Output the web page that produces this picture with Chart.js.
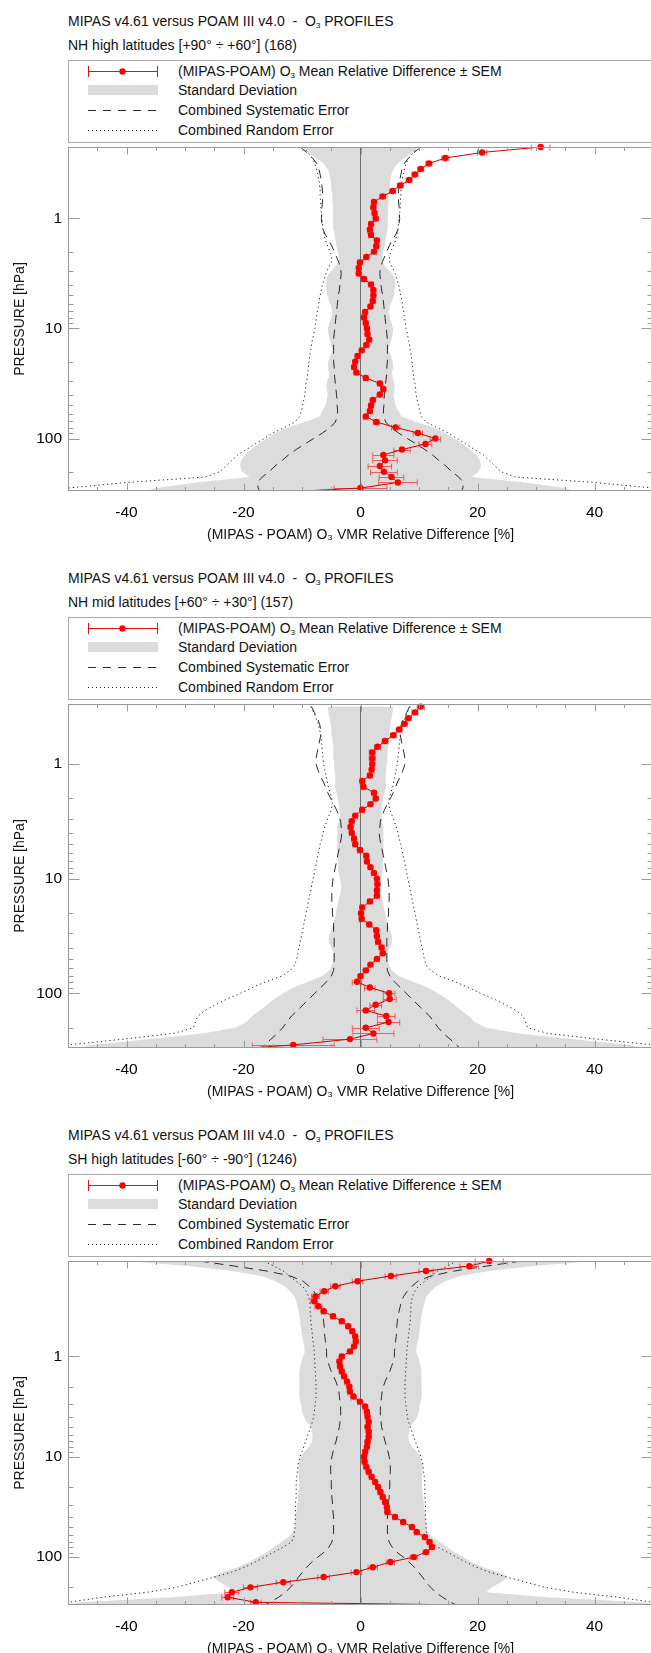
<!DOCTYPE html>
<html><head><meta charset="utf-8">
<script src="https://cdn.jsdelivr.net/npm/chart.js@4.4.1/dist/chart.umd.min.js"></script>
<style>
html,body{margin:0;padding:0;background:#fff;}
body{width:651px;height:1653px;overflow:hidden;position:relative;font-family:'Liberation Sans',Arial,Helvetica,sans-serif;color:#111;}
.panel{position:absolute;left:0;width:660px;height:557px;}
.t{position:absolute;left:68px;font-size:14px;line-height:16px;white-space:nowrap;}
.leg{position:absolute;left:68px;top:60px;width:620px;height:83px;border:1.5px solid #a8a8a8;box-sizing:border-box;}
.leg svg{position:absolute;left:18.5px;}
.leg span{position:absolute;left:109px;font-size:14px;line-height:16px;white-space:nowrap;}
sub{font-size:8px;vertical-align:-2px;line-height:0;}
canvas{position:absolute;left:0;top:141px;}
</style></head>
<body>
<script>
// ---------- data ----------
const levels = [0.112,0.126,0.141,0.158,0.178,0.200,0.224,0.251,0.282,0.316,0.355,0.398,0.447,0.501,0.562,0.631,0.708,0.794,0.891,
  1.00,1.12,1.26,1.41,1.58,1.78,2.00,2.24,2.51,2.82,3.16,3.55,3.98,4.47,5.01,5.62,6.31,7.08,7.94,8.91,
  10.0,11.2,12.6,14.1,15.8,17.8,20.0,22.4,25.1,28.2,31.6,35.5,39.8,44.7,50.1,56.2,63.1,70.8,79.4,89.1,
  100,112,126,141,158,178,200,224,251,282,316];

const xLabelTicks = [-40,-20,0,20,40];
const xMinorTicks = [-45,-35,-30,-25,-15,-10,-5,5,10,15,25,30,35,45];
const yLabelTicks = [1,10,100];
const yMinorTicks = [2,3,4,5,6,7,8,9,20,30,40,50,60,70,80,90,200];

const subtitles = ['NH high latitudes [+90° ÷ +60°] (168)','NH mid latitudes [+60° ÷ +30°] (157)','SH high latitudes [-60° ÷ -90°] (1246)'];
const pressureMin = [0.224, 0.316, 0.112];
const pressureMax = [300, 300, 300];
const levelStart = [6, 9, 0];

// Panel 1 : NH high latitudes
const p1Mean = [30.8,20.8,14.5,11.7,10.3,9.3,8.3,6.8,5.5,3.8,
  2.3,2.2,2.4,2.6,1.8,1.6,1.8,2.8,2.7,2.3,
  1.0,-0.1,-0.3,-0.3,0.6,1.8,2.2,2.2,2.1,1.7,
  0.8,0.6,0.9,1.1,1.2,1.5,1.0,0.2,-0.5,-0.9,
  -1.1,-0.7,0.9,3.3,3.9,3.3,2.1,1.8,1.6,0.9,
  2.7,6.0,9.8,12.8,11.1,7.1,3.9,4.2,3.3,4.0,
  5.3,6.4,0.0,-18];
const p1Sem = [1.6,0.8,0.6,0.5,0.5,0.5,0.5,0.5,0.5,0.5,
  0.4,0.4,0.4,0.4,0.4,0.4,0.4,0.4,0.4,0.4,
  0.4,0.4,0.4,0.4,0.4,0.4,0.4,0.4,0.4,0.4,
  0.4,0.4,0.4,0.4,0.4,0.4,0.4,0.4,0.4,0.4,
  0.4,0.4,0.4,0.4,0.4,0.4,0.4,0.4,0.4,0.4,
  0.5,0.7,0.8,0.9,1.1,1.4,1.8,2.1,2.0,2.3,
  2.1,3.3,4.5,5];
const p1Sd = [10.0,9.0,7.5,6.3,5.6,5.3,5.1,5.0,4.9,4.8,
  4.8,4.7,4.7,4.7,4.6,4.6,4.4,4.3,4.1,3.9,
  3.7,3.8,4.5,5.4,5.9,5.9,5.8,5.7,5.4,5.0,
  4.8,5.0,5.3,5.6,5.5,5.3,5.0,4.8,5.2,5.5,
  5.6,5.4,5.5,5.8,5.8,5.6,5.8,6.0,6.5,7.0,
  9.5,12.5,14.5,16.0,17.5,18.7,19.8,20.4,20.6,20.2,
  19.0,28,35,38];
const p1Sys = [10.3,9.2,8.2,7.5,7.1,6.9,6.7,6.6,6.5,6.5,
  6.5,6.6,6.6,6.7,6.6,6.4,6.0,5.4,4.9,4.5,
  4.1,3.7,3.4,3.3,3.4,3.5,3.6,3.8,3.9,4.0,
  4.1,4.2,4.3,4.4,4.5,4.6,4.6,4.6,4.6,4.6,
  4.5,4.5,4.4,4.3,4.2,4.1,4.0,4.0,3.9,4.0,
  4.3,5.2,6.5,8.0,9.5,11.0,12.3,13.4,14.6,15.6,
  16.8,17.6,17.5,17];
const p1Rnd = [9.8,9.0,8.3,7.8,7.5,7.3,7.1,7.0,6.9,6.9,
  6.8,6.8,6.7,6.6,6.5,6.4,6.2,6.0,5.6,5.2,
  4.9,5.0,5.5,5.9,6.2,6.5,6.7,6.9,7.1,7.2,
  7.4,7.5,7.7,7.8,8.0,8.2,8.4,8.5,8.7,8.8,
  8.9,9.0,9.1,9.3,9.4,9.5,9.7,9.9,10.1,10.4,
  11.2,13.0,15.0,16.5,18.0,19.5,21.0,22.0,23.0,24.0,
  26.5,40,50,55];

// Panel 2 : NH mid latitudes
const p2Mean = [10.3,9.3,8.2,7.5,6.6,5.6,4.2,2.9,2.0,2.0,
  2.0,1.9,1.6,0.3,0.5,2.3,2.6,1.7,0.3,-0.9,
  -1.5,-1.7,-1.5,-1.1,-0.9,-0.1,1.0,1.1,1.7,2.3,
  2.8,2.9,2.8,2.8,1.6,0.3,0.1,0.2,1.5,2.7,
  2.8,3.0,3.6,3.8,2.8,1.7,0.9,0.0,-0.6,1.6,
  4.9,5.0,2.6,0.9,4.4,4.8,0.9,2.2,-1.8,-11.5,-25];
const p2Sem = [0.6,0.5,0.5,0.5,0.5,0.5,0.5,0.5,0.5,0.5,
  0.4,0.4,0.4,0.4,0.4,0.4,0.4,0.4,0.4,0.4,
  0.4,0.4,0.4,0.4,0.4,0.4,0.4,0.4,0.4,0.4,
  0.4,0.4,0.4,0.4,0.4,0.4,0.4,0.4,0.4,0.4,
  0.4,0.4,0.4,0.4,0.4,0.4,0.4,0.4,0.8,0.9,
  1.0,1.1,1.0,1.5,1.5,1.9,2.3,3.5,4.6,7.0,7];
const p2Sd = [5.6,5.5,5.3,5.1,5.0,4.9,4.8,4.7,4.6,4.6,
  4.5,4.4,4.3,4.3,4.4,4.1,3.9,3.7,3.6,3.6,
  3.7,3.9,4.0,4.0,4.0,3.9,3.9,3.8,3.8,3.7,
  3.5,3.3,3.3,3.6,3.8,4.0,4.2,4.4,4.7,5.0,
  5.4,5.4,5.0,4.6,4.6,4.9,5.3,6.5,9.0,11.5,
  13.2,14.8,16.0,17.2,18.5,19.5,21.5,27,36,46,50];
const p2Sys = [8.4,7.9,7.4,7.0,6.8,6.8,7.0,7.2,7.4,7.6,
  7.6,7.3,6.9,6.4,6.0,5.6,5.1,4.6,4.1,3.7,
  3.4,3.3,3.2,3.3,3.5,3.7,3.9,4.1,4.3,4.5,
  4.7,4.8,4.9,4.9,4.9,4.8,4.8,4.7,4.6,4.6,
  4.5,4.5,4.5,4.5,4.5,4.5,4.6,5.0,5.8,6.8,
  7.8,8.8,9.8,10.8,11.8,12.6,13.3,14.2,15.3,16.4,17.5];
const p2Rnd = [8.5,8.0,7.6,7.2,7.0,6.8,6.7,6.6,6.5,6.4,
  6.3,6.1,5.9,5.7,5.5,5.2,4.9,4.8,5.0,5.4,
  5.8,6.1,6.4,6.6,6.9,7.1,7.3,7.5,7.7,7.9,
  8.1,8.3,8.5,8.7,8.9,9.1,9.3,9.5,9.7,9.9,
  10.1,10.3,10.5,10.7,10.9,11.2,12.0,13.5,16.2,18.5,
  20.5,22.8,24.8,26.6,27.8,28.2,28.6,32.0,40.5,50,55];

// Panel 3 : SH high latitudes
const p3Mean = [22.0,18.6,11.2,5.2,-0.5,-4.3,-6.2,-7.7,-7.9,-7.2,
  -6.3,-4.7,-3.2,-2.1,-1.4,-0.9,-0.8,-1.1,-1.8,-3.2,
  -3.6,-3.5,-3.2,-2.8,-2.3,-1.9,-1.8,-1.2,-0.1,0.8,
  1.1,1.2,1.4,1.2,1.4,1.4,1.2,1.1,0.8,0.6,
  0.7,1.0,1.4,1.9,2.5,3.0,3.4,3.8,4.2,4.5,
  4.6,5.9,7.3,8.8,9.6,11.0,11.8,12.2,11.2,9.1,
  5.1,2.1,-0.7,-6.3,-13.2,-18.8,-22.0,-22.7,-17.9,50];
const p3Sem = [2.4,1.6,1.2,1.0,0.9,0.8,0.7,0.7,0.6,0.6,
  0.4,0.4,0.4,0.4,0.4,0.4,0.4,0.4,0.4,0.4,
  0.4,0.4,0.4,0.4,0.4,0.4,0.4,0.4,0.4,0.4,
  0.4,0.4,0.4,0.4,0.4,0.4,0.4,0.4,0.4,0.4,
  0.4,0.4,0.4,0.4,0.4,0.4,0.4,0.4,0.4,0.4,
  0.4,0.4,0.4,0.4,0.4,0.4,0.4,0.4,0.5,0.6,
  0.7,0.8,0.9,1.0,1.2,1.2,1.2,1.0,0.9,1];
const p3Sd = [40,29,22,17,14.5,13,12,11.3,11,10.8,
  10.6,10.4,10.3,10.2,10.1,10.0,9.8,9.6,9.5,9.8,
  10.1,10.3,10.4,10.5,10.5,10.5,10.4,10.4,10.3,10.1,
  10.0,9.7,9.2,8.5,8.3,8.2,8.3,8.8,9.6,10.2,
  10.5,10.6,10.6,10.5,10.5,10.5,10.6,10.7,10.8,10.9,
  11.0,11.1,11.2,11.3,11.5,12.3,13.5,14.8,16.0,17.5,
  19.0,21.0,23.5,25.3,24.0,22.5,21.5,32,48,55];
const p3Sys = [27.5,21.5,16,12,9.8,8.8,8.0,7.4,7.0,6.8,
  6.6,6.4,6.3,6.2,6.2,6.1,6.0,5.9,5.8,5.8,
  5.6,5.3,5.0,4.6,4.2,3.9,3.7,3.6,3.5,3.4,
  3.4,3.4,3.5,3.6,3.8,4.0,4.2,4.5,4.7,4.9,
  5.0,5.1,5.1,5.0,5.0,5.0,4.9,4.9,4.8,4.8,
  4.7,4.6,4.6,4.6,4.6,4.7,4.9,5.4,6.2,7.3,
  8.3,9.2,9.9,10.6,11.2,12.0,12.8,14.0,15.5,17];
const p3Rnd = [16.5,14.8,13.2,12.2,11.0,9.9,9.3,8.9,8.7,8.6,
  8.6,8.5,8.5,8.4,8.3,8.2,8.1,8.0,7.9,7.9,
  7.8,7.8,7.7,7.7,7.6,7.6,7.6,7.6,7.7,7.8,
  7.9,8.0,8.2,8.5,8.8,9.1,9.4,9.7,10.0,10.3,
  10.6,10.7,10.8,10.9,11.0,11.0,11.0,11.0,11.1,11.1,
  11.1,11.1,11.2,11.2,11.3,11.4,11.8,13.2,14.8,16.4,
  18.0,19.8,22.0,25.0,28.3,31.5,36.5,44,50,55];

const panels = [
  {mean:p1Mean, sem:p1Sem, sd:p1Sd, sys:p1Sys, rnd:p1Rnd},
  {mean:p2Mean, sem:p2Sem, sd:p2Sd, sys:p2Sys, rnd:p2Rnd},
  {mean:p3Mean, sem:p3Sem, sd:p3Sd, sys:p3Sys, rnd:p3Rnd}
];

// ---------- chart ----------
Chart.defaults.font.family = "'Liberation Sans', Arial, Helvetica, sans-serif";
Chart.defaults.font.size = 14;
Chart.defaults.color = '#111';

const profilePlugin = {
  id: 'profile',
  beforeDatasetDraw(chart, args) {
    const ds = chart.data.datasets[args.index];
    if (!ds.sem) return;
    const {ctx, chartArea: a} = chart;
    const xs = chart.scales.x, ys = chart.scales.y;
    ctx.save();
    ctx.beginPath();
    ctx.rect(a.left, a.top - 6, a.right - a.left, a.bottom - a.top + 6);
    ctx.clip();
    ctx.strokeStyle = '#f05a5a';
    ctx.lineWidth = 1;
    ds.data.forEach((pt, i) => {
      const e = ds.sem[i];
      const py = Math.round(ys.getPixelForValue(pt.y)) + 0.5;
      const x1 = xs.getPixelForValue(pt.x - e), x2 = xs.getPixelForValue(pt.x + e);
      ctx.beginPath();
      ctx.moveTo(x1, py); ctx.lineTo(x2, py);
      ctx.moveTo(x1, py - 3); ctx.lineTo(x1, py + 3);
      ctx.moveTo(x2, py - 3); ctx.lineTo(x2, py + 3);
      ctx.stroke();
    });
    ctx.restore();
  },
  afterDraw(chart) {
    const {ctx, chartArea: a} = chart;
    const xs = chart.scales.x, ys = chart.scales.y;
    ctx.save();
    ctx.strokeStyle = '#9a9a9a';
    ctx.lineWidth = 1;
    const L = a.left + 0.5, R = a.right - 0.5, T = a.top + 0.5, B = a.bottom - 0.5;
    ctx.strokeRect(L, T, R - L, B - T);
    ctx.beginPath();
    const xt = (v, len) => {
      const px = Math.round(xs.getPixelForValue(v)) + 0.5;
      ctx.moveTo(px, B); ctx.lineTo(px, B - len);
      ctx.moveTo(px, T); ctx.lineTo(px, T + len);
    };
    xLabelTicks.forEach(v => xt(v, 7));
    xMinorTicks.forEach(v => xt(v, 3.5));
    const yt = (v, len) => {
      if (v < ys.min || v > ys.max) return;
      const py = Math.round(ys.getPixelForValue(v)) + 0.5;
      ctx.moveTo(L, py); ctx.lineTo(L + len, py);
      ctx.moveTo(R, py); ctx.lineTo(R - len, py);
    };
    yLabelTicks.forEach(v => yt(v, 11));
    yMinorTicks.forEach(v => yt(v, 5));
    ctx.stroke();
    ctx.restore();
  }
};

function zeroPad(s) { s.paddingTop = 0; s.paddingBottom = 0; s.paddingLeft = 0; s.paddingRight = 0; }

function buildChart(canvas, lv, d, pmin, pmax) {
  const pos = arr => arr.map((v, i) => ({x: v, y: lv[i]}));
  const neg = arr => arr.map((v, i) => ({x: -v, y: lv[i]}));
  const line = (data, dash, order) => ({data, borderColor:'#2a2a2a', borderWidth:1, borderDash:dash, pointRadius:0, fill:false, order});
  return new Chart(canvas, {
    type: 'line',
    data: { datasets: [
      {label:'mean', data: pos(d.mean), sem: d.sem, borderColor:'#d00000', borderWidth:1,
       pointRadius:3.2, pointHoverRadius:3.2, pointBackgroundColor:'#ff0000', pointBorderWidth:0,
       fill:false, order:0, clip:{left:0, right:0, top:6, bottom:0}},
      {label:'zero', data:[{x:0, y:pmin}, {x:0, y:pmax}], borderColor:'#6e6e6e', borderWidth:1, pointRadius:0, fill:false, order:1},
      Object.assign({label:'sys+'}, line(pos(d.sys), [9,6], 2)),
      Object.assign({label:'sys-'}, line(neg(d.sys), [9,6], 2)),
      Object.assign({label:'rnd+'}, line(pos(d.rnd), [1.3,3], 2)),
      Object.assign({label:'rnd-'}, line(neg(d.rnd), [1.3,3], 2)),
      {label:'sd-', data: neg(d.sd), borderWidth:0, borderColor:'rgba(0,0,0,0)', pointRadius:0, fill:false, order:3},
      {label:'sd+', data: pos(d.sd), borderWidth:0, borderColor:'rgba(0,0,0,0)', pointRadius:0, fill:'-1', backgroundColor:'#dcdcdc', order:3}
    ]},
    options: {
      indexAxis: 'y', responsive: false, animation: false, devicePixelRatio: 1, events: [],
      layout: {padding: {top: 6, right: 7, left: 0, bottom: 0}},
      elements: {line: {tension: 0}},
      plugins: {legend: {display: false}, tooltip: {enabled: false}, filler: {drawTime: 'beforeDatasetsDraw'}},
      scales: {
        x: {type:'linear', position:'bottom', min:-50, max:50,
            grid:{display:false, drawTicks:false}, border:{display:false},
            afterBuildTicks: s => { s.ticks = xLabelTicks.map(v => ({value: v})); },
            afterFit: s => { s.height = 66; zeroPad(s); },
            ticks:{padding:12, autoSkip:false, maxRotation:0, color:'#000', font:{size:15.5}, callback: v => String(v)},
            title:{display:true, text:'(MIPAS - POAM) O\u2083 VMR Relative Difference [%]', padding:{top:0, bottom:13}}},
        y: {type:'logarithmic', position:'left', reverse:true, min:pmin, max:pmax,
            grid:{display:false, drawTicks:false}, border:{display:false},
            afterBuildTicks: s => { s.ticks = yLabelTicks.map(v => ({value: v})); },
            afterFit: s => { s.width = 68; zeroPad(s); },
            ticks:{padding:6, autoSkip:false, color:'#000', font:{size:15.5}, callback: v => String(v)},
            title:{display:true, text:'PRESSURE [hPa]', padding:{top:12, bottom:0}}}
      }
    },
    plugins: [profilePlugin]
  });
}

// ---------- page ----------
const legendIcons = [
  '<svg width="72" height="14" style="top:3.2px"><line x1="0.5" y1="7.5" x2="70" y2="7.5" stroke="#e01010" stroke-width="1"/><line x1="0.5" y1="2" x2="0.5" y2="13" stroke="#e01010"/><line x1="69.5" y1="2" x2="69.5" y2="13" stroke="#e01010"/><circle cx="34.5" cy="7.5" r="3.2" fill="#ff0000"/></svg>',
  '<svg width="72" height="14" style="top:22.2px"><rect x="0" y="2" width="70" height="10" fill="#dcdcdc"/></svg>',
  '<svg width="72" height="14" style="top:42.2px"><line x1="0" y1="7.5" x2="70" y2="7.5" stroke="#2a2a2a" stroke-width="1" stroke-dasharray="8 7"/></svg>',
  '<svg width="72" height="14" style="top:61.5px"><line x1="0" y1="7.5" x2="70" y2="7.5" stroke="#2a2a2a" stroke-width="1" stroke-dasharray="1 3"/></svg>'
];
const legendTexts = [
  ['2.2px', '(MIPAS-POAM) O<sub>3</sub> Mean Relative Difference &plusmn; SEM'],
  ['21.2px', 'Standard Deviation'],
  ['41.2px', 'Combined Systematic Error'],
  ['60.5px', 'Combined Random Error']
];

panels.forEach((d, i) => {
  const panel = document.createElement('div');
  panel.className = 'panel';
  panel.style.top = (i * 557) + 'px';
  panel.innerHTML =
    '<div class="t" style="top:12.7px">MIPAS v4.61 versus POAM III v4.0 &nbsp;-&nbsp; O<sub>3</sub> PROFILES</div>' +
    '<div class="t" style="top:37px">' + subtitles[i] + '</div>' +
    '<div class="leg">' + legendIcons.join('') +
      legendTexts.map(t => '<span style="top:' + t[0] + '">' + t[1] + '</span>').join('') + '</div>';
  const cv = document.createElement('canvas');
  cv.width = 660; cv.height = 416;
  cv.style.width = '660px'; cv.style.height = '416px';
  panel.appendChild(cv);
  document.body.appendChild(panel);
  const lv = levels.slice(levelStart[i]);
  buildChart(cv, lv, d, pressureMin[i], pressureMax[i]);
});
</script>
</body></html>
